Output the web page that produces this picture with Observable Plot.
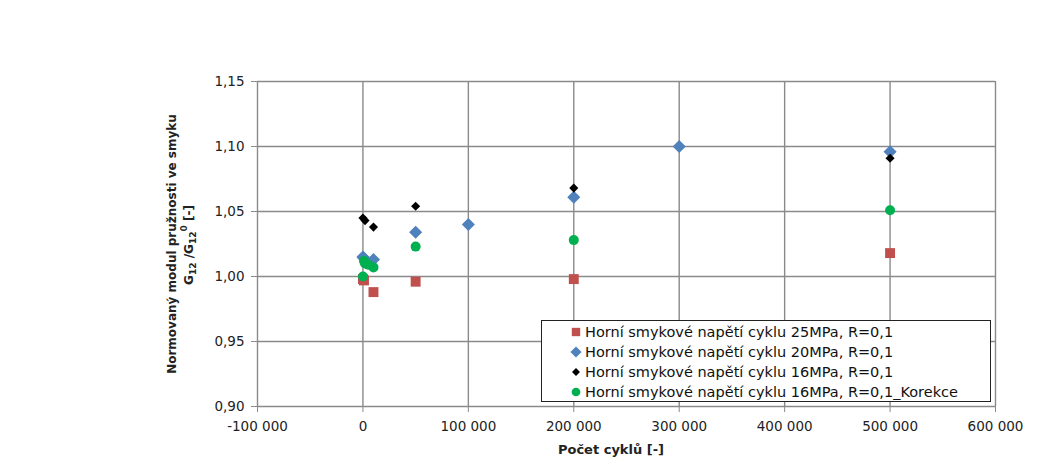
<!DOCTYPE html>
<html><head><meta charset="utf-8">
<script src="https://cdn.jsdelivr.net/npm/d3@7"></script>
<script src="https://cdn.jsdelivr.net/npm/@observablehq/plot@0.6"></script>
<style>
body{margin:0;background:#fff;}
#wrap{position:relative;width:1064px;height:468px;font-family:"DejaVu Sans",sans-serif;}
#legend{position:absolute;left:541px;top:320px;width:450px;height:82px;border:1.5px solid #222;background:#fff;box-sizing:border-box;padding-top:1px;}
.row{height:20px;display:flex;align-items:center;font-size:14.5px;color:#111;white-space:nowrap;}
.row svg{margin-left:28px;margin-right:3px;}
</style></head>
<body><div id="wrap"></div>
<script>
// ---- data ----
const seriesNames = [
  "Horní smykové napětí cyklu 25MPa, R=0,1",
  "Horní smykové napětí cyklu 20MPa, R=0,1",
  "Horní smykové napětí cyklu 16MPa, R=0,1",
  "Horní smykové napětí cyklu 16MPa, R=0,1_Korekce"
];
const colors = ["#C0504D", "#4F81BD", "#000000", "#00B050"];
const symbols = ["square", "diamond2", "diamond2", "circle"];
const radii = [5.6, 5.9, 4.1, 5];

const cycles25 = [0, 1000, 10000, 50000, 200000, 500000];
const values25 = [0.998, 0.997, 0.988, 0.996, 0.998, 1.018];
const cycles20 = [0, 1000, 10000, 50000, 100000, 200000, 300000, 500000];
const values20 = [1.015, 1.014, 1.013, 1.034, 1.040, 1.061, 1.100, 1.096];
const cycles16 = [0, 2000, 10000, 50000, 200000, 500000];
const values16 = [1.045, 1.043, 1.038, 1.054, 1.068, 1.091];
const cycles16k = [0, 1000, 2000, 5000, 10000, 50000, 200000, 500000];
const values16k = [1.000, 1.012, 1.010, 1.009, 1.007, 1.023, 1.028, 1.051];

const xTicks = [-100000, 0, 100000, 200000, 300000, 400000, 500000, 600000];
const yTicks = [0.90, 0.95, 1.00, 1.05, 1.10, 1.15];
const xTitle = "Počet cyklů [-]";
const yTitle = "Normovaný modul pružnosti ve smyku";

const series = [
  [cycles25, values25], [cycles20, values20], [cycles16, values16], [cycles16k, values16k]
].map(([c, v], i) => c.map((x, j) => ({x, y: v[j], s: seriesNames[i]})));

const fmtX = d => d3.format(",")(d).replace(/,/g, " ").replace("\u2212", "-");
const fmtY = d => d3.format(".2f")(d).replace(".", ",");
const FONT = "'DejaVu Sans', sans-serif";
const gridColor = "#8a8a8a";

const plot = Plot.plot({
  width: 1064, height: 468,
  marginLeft: 257, marginRight: 69, marginTop: 81, marginBottom: 62,
  style: {fontFamily: FONT, fontSize: "13.5px", color: "#222", background: "#fff", overflow: "visible"},
  x: {domain: [-100000, 600000]},
  y: {domain: [0.9, 1.15]},
  marks: [
    Plot.gridX(xTicks, {stroke: gridColor, strokeOpacity: 1, strokeWidth: 1.4}),
    Plot.gridY(yTicks, {stroke: gridColor, strokeOpacity: 1, strokeWidth: 1.4}),
    Plot.axisX(xTicks, {tickSize: 6, tickPadding: 9, tickFormat: fmtX, label: null, stroke: gridColor}),
    Plot.axisY(yTicks, {tickSize: 6, tickPadding: 7, tickFormat: fmtY, label: null, stroke: gridColor}),
    ...series.map((data, i) => Plot.dot(data, {
      x: "x", y: "y", symbol: () => symbols[i], r: radii[i],
      fill: colors[i], stroke: "none"
    }))
  ]
});

const svg = d3.select(plot);
svg.append("text")
  .attr("x", 611).attr("y", 454)
  .attr("text-anchor", "middle")
  .style("font", `bold 13px ${FONT}`)
  .text(xTitle);
svg.append("text")
  .attr("transform", "translate(176,244) rotate(-90)")
  .attr("text-anchor", "middle")
  .style("font", `bold 12px ${FONT}`)
  .text(yTitle);
const t2 = svg.append("text")
  .attr("transform", "translate(193,245) rotate(-90)")
  .attr("text-anchor", "middle")
  .style("font", `bold 12px ${FONT}`);
t2.append("tspan").text("G");
t2.append("tspan").attr("dy", 3).style("font-size", "9px").text("12");
t2.append("tspan").attr("dy", -3).text(" /G");
t2.append("tspan").attr("dy", 3).style("font-size", "9px").text("12");
t2.append("tspan").attr("dy", -9).style("font-size", "9px").text("0");
t2.append("tspan").attr("dy", 6).text(" [-]");

const wrap = document.getElementById("wrap");
wrap.appendChild(plot);

// legend
const legend = document.createElement("div");
legend.id = "legend";
seriesNames.forEach((name, i) => {
  const row = document.createElement("div");
  row.className = "row";
  const sym = d3.create("svg").attr("width", 12).attr("height", 12);
  const sz = [70, 80, 40, 60][i];
  const shape = {square: d3.symbolSquare, diamond2: d3.symbolDiamond2, circle: d3.symbolCircle}[symbols[i]];
  sym.append("path").attr("transform", "translate(6,6)")
    .attr("d", d3.symbol(shape, sz)()).attr("fill", colors[i]);
  row.appendChild(sym.node());
  const span = document.createElement("span");
  span.textContent = name;
  row.appendChild(span);
  legend.appendChild(row);
});
wrap.appendChild(legend);
</script>
</body></html>
